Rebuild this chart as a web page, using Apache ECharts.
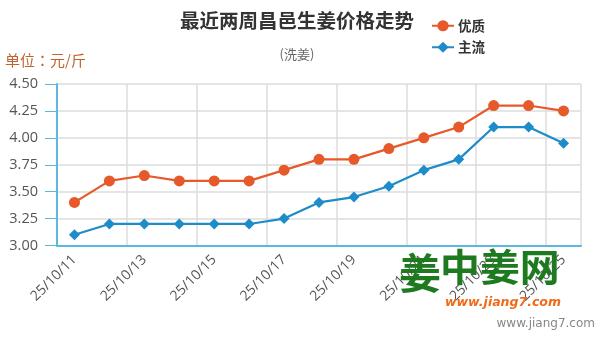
<!DOCTYPE html>
<html>
<head>
<meta charset="utf-8">
<script src="https://cdn.jsdelivr.net/npm/echarts@6/dist/echarts.min.js"></script>
<style>
  html, body { margin: 0; padding: 0; background: #fff; }
  #chart { width: 600px; height: 339px; }
</style>
</head>
<body>
<div id="chart"></div>
<script>
// Washed ginger prices in Changyi over the last two weeks (yuan per jin)
const dates = ['25/10/11', '25/10/12', '25/10/13', '25/10/14', '25/10/15', '25/10/16', '25/10/17',
               '25/10/18', '25/10/19', '25/10/20', '25/10/21', '25/10/22', '25/10/23', '25/10/24', '25/10/25'];
const premium = [3.40, 3.60, 3.65, 3.60, 3.60, 3.60, 3.70, 3.80, 3.80, 3.90, 4.00, 4.10, 4.30, 4.30, 4.25];
const mainstream = [3.10, 3.20, 3.20, 3.20, 3.20, 3.20, 3.25, 3.40, 3.45, 3.55, 3.70, 3.80, 4.10, 4.10, 3.95];
const yTicks = { min: 3.00, max: 4.50, step: 0.25 };

const ORANGE = '#e5592a';
const BLUE = '#1d8cc8';
const AXIS = '#5bb8e0';
const CJK = '"Noto Sans CJK SC", "Noto Sans", sans-serif';
const LATIN = '"Open Sans", "DejaVu Sans", sans-serif';

const chart = echarts.init(document.getElementById('chart'), null, { renderer: 'canvas' });

chart.setOption({
  animation: false,
  backgroundColor: '#fff',
  title: {
    text: '最近两周昌邑生姜价格走势',
    subtext: '(洗姜)',
    left: 292,
    textAlign: 'center',
    top: 6,
    itemGap: 17,
    textStyle: { fontFamily: CJK, fontSize: 19.5, fontWeight: 'bold', color: '#333' },
    subtextStyle: { fontFamily: CJK, fontSize: 13, color: '#666' }
  },
  legend: {
    orient: 'vertical',
    left: 426,
    top: 14,
    itemGap: 8,
    itemWidth: 22,
    itemHeight: 14,
    textStyle: { fontFamily: CJK, fontSize: 13.5, fontWeight: 'bold', color: '#333', padding: [0, 0, 0, -1] },
    data: ['优质', '主流']
  },
  grid: { left: 57, right: 19, top: 84, bottom: 93.5 },
  xAxis: {
    type: 'category',
    data: dates,
    boundaryGap: true,
    axisLine: { lineStyle: { color: AXIS, width: 2 } },
    axisTick: { alignWithLabel: true, interval: 1, length: 8, lineStyle: { color: AXIS } },
    axisLabel: {
      interval: 1, rotate: 45, color: '#555', fontSize: 14,
      fontFamily: LATIN, margin: 12
    },
    splitLine: { show: true, interval: 1, lineStyle: { color: '#ddd', width: 1.5 } }
  },
  yAxis: {
    type: 'value',
    min: yTicks.min,
    max: yTicks.max,
    interval: yTicks.step,
    name: '单位：元/斤',
    nameLocation: 'end',
    nameGap: 16,
    nameTextStyle: {
      fontFamily: '"Noto Sans CJK TC", "Noto Sans CJK SC", sans-serif',
      fontSize: 15, color: '#c0622e', align: 'left', padding: [0, 0, 0, -52]
    },
    axisLine: { show: true, lineStyle: { color: AXIS, width: 2 } },
    axisTick: { show: true, length: 12, lineStyle: { color: AXIS } },
    axisLabel: {
      color: '#555', fontSize: 14.5, margin: 19,
      fontFamily: LATIN,
      formatter: v => v.toFixed(2)
    },
    splitLine: { lineStyle: { color: '#ddd', width: 1.5 } }
  },
  series: [
    {
      name: '优质', type: 'line', data: premium,
      symbol: 'circle', symbolSize: 11,
      itemStyle: { color: ORANGE },
      lineStyle: { color: ORANGE, width: 2.2 }
    },
    {
      name: '主流', type: 'line', data: mainstream,
      symbol: 'diamond', symbolSize: 11,
      itemStyle: { color: BLUE },
      lineStyle: { color: BLUE, width: 2.2 }
    }
  ],
  graphic: [
    {
      type: 'text', left: 399, top: 252, z: 100,
      style: { text: '姜', font: 'bold 42px ' + CJK, fill: '#1e7a1e' }
    },
    {
      type: 'text', left: 440, top: 248, z: 100,
      scaleX: 1.05,
      style: { text: '中姜网', font: 'bold 38px ' + CJK, fill: '#1e7a1e' }
    },
    {
      type: 'text', left: 445, top: 296, z: 100,
      style: { text: 'www.jiang7.com', font: 'italic bold 12.5px "DejaVu Sans", sans-serif', fill: '#f06a1a' }
    },
    {
      type: 'text', right: 5, top: 318, z: 100,
      style: { text: 'www.jiang7.com', font: '12px "DejaVu Sans", sans-serif', fill: '#888' }
    }
  ]
});
</script>
</body>
</html>
